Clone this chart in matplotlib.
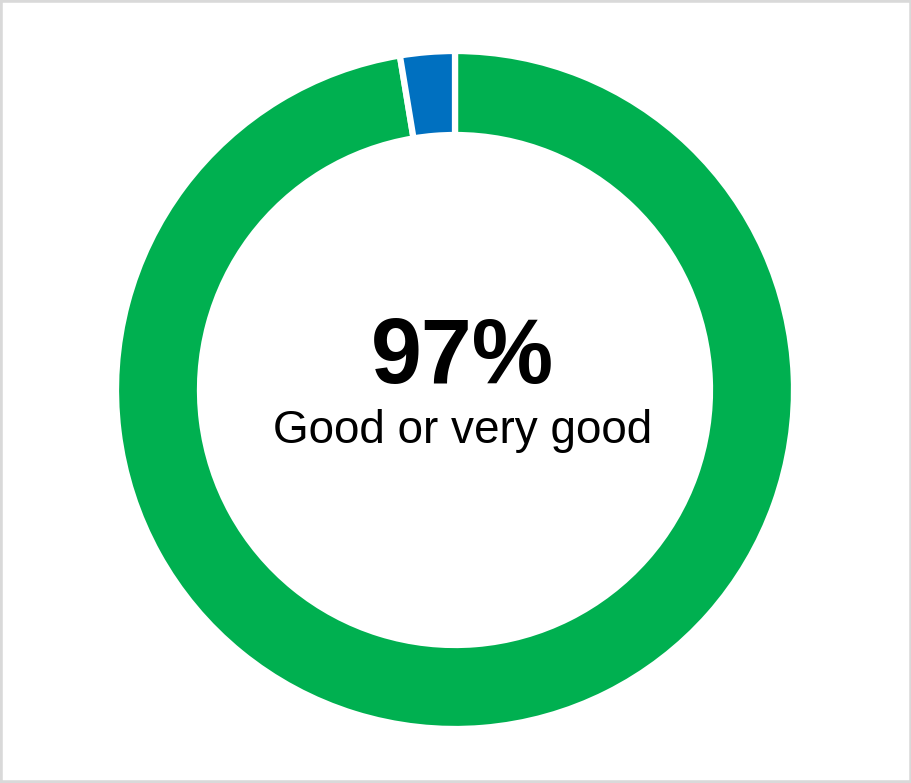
import matplotlib
matplotlib.use("Agg")
import matplotlib.pyplot as plt
from matplotlib.patches import Rectangle

labels = ["Good or very good", "Other"]
values = [97.4, 2.6]
colors = ["#00b050", "#0070c0"]
center_value = "97%"
center_label = "Good or very good"

W, H = 912, 783
fig = plt.figure(figsize=(W / 100, H / 100), dpi=100)
ax = fig.add_axes([0, 0, 1, 1])

cx, cy = 455, 393
ax.pie(values, colors=colors, startangle=90, counterclock=False,
       center=(cx, cy), radius=339, frame=False,
       wedgeprops=dict(width=84, edgecolor="white", linewidth=4.5))
ax.set_xlim(0, W)
ax.set_ylim(0, H)
ax.set_aspect("equal")
ax.axis("off")

ax.text(462, 400, center_value, ha="center", va="baseline",
        fontsize=66, fontweight="bold", family="Liberation Sans", color="black")
ax.text(463, 340, center_label, ha="center", va="baseline",
        fontsize=33, family="Liberation Sans", color="black")

fig.patches.append(Rectangle((0, 0), 1, 1, transform=fig.transFigure,
                             fill=False, edgecolor="#d9d9d9", linewidth=4))

fig.savefig("out.png", dpi=100)
